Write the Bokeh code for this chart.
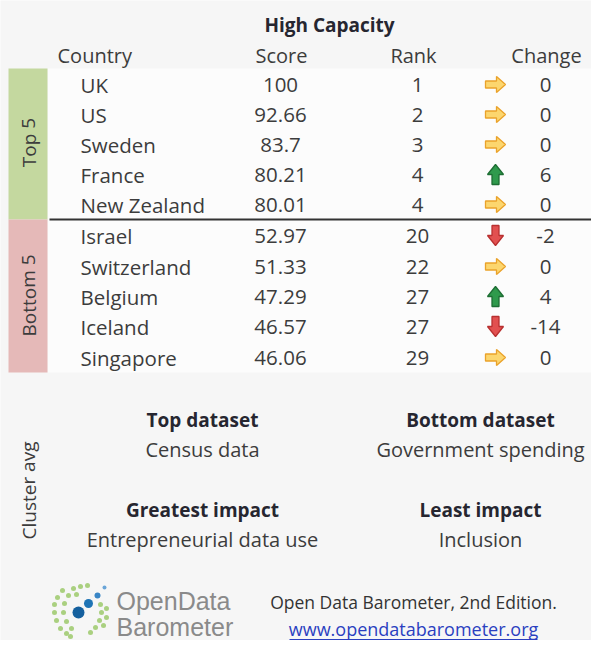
from bokeh.plotting import figure
from bokeh.models import ColumnDataSource
from bokeh.core.properties import value
from bokeh.embed import file_html
from bokeh.resources import INLINE

# ---- data ----
title = "High Capacity"
headers = ["Country", "Score", "Rank", "Change"]
countries = ["UK", "US", "Sweden", "France", "New Zealand",
             "Israel", "Switzerland", "Belgium", "Iceland", "Singapore"]
scores = ["100", "92.66", "83.7", "80.21", "80.01",
          "52.97", "51.33", "47.29", "46.57", "46.06"]
ranks = [1, 2, 3, 4, 4, 20, 22, 27, 27, 29]
changes = [0, 0, 0, 6, 0, -2, 0, 4, -14, 0]
groups = ["Top 5", "Bottom 5"]
cluster_label = "Cluster avg"
cluster_heads = ["Top dataset", "Bottom dataset", "Greatest impact", "Least impact"]
cluster_vals = ["Census data", "Government spending", "Entrepreneurial data use", "Inclusion"]
source_line = "Open Data Barometer, 2nd Edition."
url = "www.opendatabarometer.org"

FONT = value("Open Sans")
TXT = "#3c3c3c"
BOLD = "#262630"

W, H = 591, 640
p = figure(width=W, height=H, x_range=(0, W), y_range=(H, 0),
           output_backend="svg", toolbar_location=None, min_border=0)
p.axis.visible = False
p.grid.visible = False
p.outline_line_color = None
p.background_fill_color = "#f6f6f6"
p.border_fill_color = "#f6f6f6"

# table white area
p.quad(left=[47], right=[W], top=[68], bottom=[372], fill_color="#fcfcfc", line_color=None)

# group bars
p.quad(left=[8, 8], right=[47, 47], top=[68, 219], bottom=[219, 372],
       fill_color=["#c4d89f", "#e5b9b8"], line_color=None)
p.text(x=[28, 28], y=[142, 295], text=groups, angle=1.5708, text_font=FONT,
       text_font_size="19px", text_color=TXT, text_align="center", text_baseline="middle")
p.segment(x0=[49], y0=[219], x1=[W], y1=[219], line_color="#333333", line_width=2)

# title & headers
p.text(x=[329], y=[24], text=[title], text_font=FONT, text_font_style="bold",
       text_font_size="19px", text_color=BOLD, text_align="center", text_baseline="middle")
p.text(x=[57], y=[55], text=[headers[0]], text_font=FONT, text_font_size="20px",
       text_color=TXT, text_align="left", text_baseline="middle")
p.text(x=[281, 413, 546], y=[55, 55, 55], text=headers[1:], text_font=FONT,
       text_font_size="20px", text_color=TXT, text_align="center", text_baseline="middle")

row_y = [84, 114, 144, 174, 204, 235, 266, 296, 326, 357]
src = ColumnDataSource(dict(
    y=row_y, c=countries, s=scores, r=[str(v) for v in ranks],
    ch=[str(v) for v in changes],
))
p.text(x=80, y="y", text="c", source=src, text_font=FONT, text_font_size="20.5px",
       text_color=TXT, text_align="left", text_baseline="middle")
p.text(x=280, y="y", text="s", source=src, text_font=FONT, text_font_size="20.5px",
       text_color=TXT, text_align="center", text_baseline="middle")
p.text(x=417, y="y", text="r", source=src, text_font=FONT, text_font_size="20.5px",
       text_color=TXT, text_align="center", text_baseline="middle")
p.text(x=545, y="y", text="ch", source=src, text_font=FONT, text_font_size="20.5px",
       text_color=TXT, text_align="center", text_baseline="middle")

# arrows
right_shape = [(-10, -3.5), (1, -3.5), (1, -8), (10, 0), (1, 8), (1, 3.5), (-10, 3.5)]
up_shape = [(-3.5, 10), (-3.5, 0), (-8, 0), (0, -10), (8, 0), (3.5, 0), (3.5, 10)]
down_shape = [(x, -y) for x, y in up_shape]
ax = 495
axs, ays, fills, lines = [], [], [], []
for yy, ch in zip(row_y, changes):
    if ch > 0:
        shp, f, l = up_shape, "#2f9a4c", "#1e6e34"
    elif ch < 0:
        shp, f, l = down_shape, "#e25050", "#b83030"
    else:
        shp, f, l = right_shape, "#fcd66e", "#eaa22a"
    axs.append([ax + dx for dx, dy in shp])
    ays.append([yy + dy for dx, dy in shp])
    fills.append(f)
    lines.append(l)
p.patches(xs=axs, ys=ays, fill_color=fills, line_color=lines, line_width=1.3)

# cluster section
p.text(x=[28], y=[490], text=[cluster_label], angle=1.5708, text_font=FONT,
       text_font_size="19px", text_color=TXT, text_align="center", text_baseline="middle")
p.text(x=[202, 480, 202, 480], y=[419, 419, 509, 509], text=cluster_heads, text_font=FONT,
       text_font_style="bold", text_font_size="19px", text_color=BOLD,
       text_align="center", text_baseline="middle")
p.text(x=[202, 480, 202, 480], y=[449, 449, 539, 539], text=cluster_vals, text_font=FONT,
       text_font_size="20px", text_color=TXT, text_align="center", text_baseline="middle")

# logo
gx = [62, 57, 54, 54, 56, 60, 66, 68, 64, 63, 66, 71, 73, 80, 87,
      100, 101, 99, 95, 90, 106, 106, 103, 76, 70]
gy = [590, 597, 604, 612, 620, 628, 633, 595, 603, 612, 621, 628, 588, 586, 585,
      604, 612, 620, 627, 632, 608, 617, 625, 594, 636]
p.scatter(x=gx, y=gy, size=5, fill_color="#9cc96b", line_color=None, fill_alpha=0.85)
p.scatter(x=[78, 88, 97, 104], y=[612, 603, 595, 587], size=[12, 9, 6, 4],
          fill_color=["#15609e", "#1f74b5", "#3a86c6", "#6aa5d8"], line_color=None)
p.text(x=[116, 116], y=[600, 626], text=["OpenData", "Barometer"], text_font=value("Liberation Sans"),
       text_font_size="25px", text_color="#8a8a8a", text_align="left", text_baseline="middle")

p.text(x=[413], y=[601], text=[source_line], text_font=FONT, text_font_size="17.5px",
       text_color="#333333", text_align="center", text_baseline="middle")
p.text(x=[413], y=[628], text=[url], text_font=FONT, text_font_size="18px",
       text_color="#2a3fc0", text_align="center", text_baseline="middle")
p.segment(x0=[289], y0=[639], x1=[537], y1=[639], line_color="#2a3fc0", line_width=1)

open("out.html", "w").write(file_html(p, INLINE))
